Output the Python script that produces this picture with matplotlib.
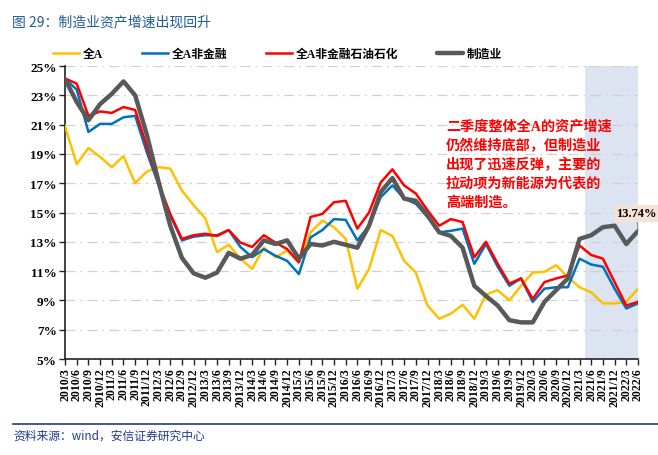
import numpy as np
import matplotlib
matplotlib.use("Agg")
import matplotlib.pyplot as plt

# quarter labels 2010/3 ... 2022/6
quarters = [f"{y}/{m}" for y in range(2010, 2023) for m in (3, 6, 9, 12)][:50]

all_a = [20.9, 18.3, 19.4, 18.8, 18.1, 18.85, 17.0, 17.8, 18.1, 18.0,
         16.5, 15.5, 14.6, 12.3, 12.8, 11.85, 11.15, 12.6, 11.95, 12.4,
         11.6, 13.65, 14.45, 14.0, 13.2, 9.8, 11.15, 13.8, 13.4, 11.7,
         10.9, 8.65, 7.75, 8.1, 8.7, 7.75, 9.4, 9.7, 9.0, 10.0,
         10.9, 10.95, 11.4, 10.6, 9.9, 9.55, 8.8, 8.8, 8.9, 9.8]

all_a_nonfin = [24.1, 23.4, 20.5, 21.05, 21.05, 21.5, 21.6, 19.1, 16.9, 14.8,
                13.1, 13.35, 13.45, 13.45, 13.8, 12.65, 11.95, 12.5, 12.05, 11.7,
                10.8, 13.3, 13.8, 14.55, 14.5, 13.1, 14.1, 16.05, 16.85, 15.95,
                15.6, 14.7, 13.65, 13.75, 13.9, 11.5, 12.85, 11.3, 10.0, 10.5,
                8.9, 9.8, 9.9, 9.9, 11.85, 11.45, 11.3, 9.8, 8.45, 8.8]

all_a_nonfin_ex_oil = [24.15, 23.8, 21.6, 21.9, 21.8, 22.2, 22.0, 19.5, 17.0, 14.9,
                       13.2, 13.45, 13.55, 13.4, 13.8, 12.95, 12.65, 13.45, 12.95, 12.5,
                       11.6, 14.7, 14.9, 15.7, 15.8, 13.9, 15.0, 17.05, 17.95, 16.85,
                       16.3, 15.15, 14.1, 14.55, 14.35, 11.95, 13.0, 11.5, 10.15, 10.5,
                       9.1, 10.25, 10.5, 10.7, 12.75, 12.1, 11.85, 10.25, 8.65, 8.9]

manufacturing = [24.1, 22.55, 21.3, 22.4, 23.1, 23.95, 23.0, 20.3, 17.1, 14.1,
                 11.9, 10.85, 10.55, 10.9, 12.25, 11.85, 12.1, 13.1, 12.85, 13.1,
                 11.85, 12.85, 12.75, 13.0, 12.8, 12.6, 14.1, 16.4, 17.35, 15.95,
                 15.8, 14.8, 13.65, 13.4, 12.6, 10.0, 9.3, 8.65, 7.65, 7.5,
                 7.5, 8.9, 9.7, 10.5, 13.2, 13.45, 14.0, 14.1, 12.85, 13.74]

series_names = ["全A", "全A非金融", "全A非金融石油石化", "制造业"]

cjk = ["Liberation Serif", "Noto Sans CJK SC"]

fig = plt.figure(figsize=(6.58, 4.56), dpi=100)
ax = fig.add_axes([0.0988, 0.2105, 0.8708, 0.6425])

x = np.arange(len(quarters))
ax.axvspan(44.5, 49, color="#DCE4F2", zorder=0, lw=0)

ax.plot(x, all_a, color="#FFC000", lw=1.8, label=series_names[0], zorder=3)
ax.plot(x, all_a_nonfin, color="#0070C0", lw=1.8, label=series_names[1], zorder=4)
ax.plot(x, all_a_nonfin_ex_oil, color="#FF0000", lw=1.8, label=series_names[2], zorder=5)
ax.plot(x, manufacturing, color="#595959", lw=3.2, label=series_names[3], zorder=6,
        solid_capstyle="round")

ax.set_xlim(0, 49)
ax.set_ylim(5, 25)
ax.set_yticks(np.arange(5, 26, 2))
ax.set_yticklabels([f"{v}%" for v in range(5, 26, 2)],
                   family="Liberation Serif", weight="bold", fontsize=9.5)
ax.set_xticks(x)
ax.set_xticklabels(quarters, rotation=90, family="Liberation Serif",
                   weight="bold", fontsize=8.5)

ax.grid(axis="y", color="#D0D0D0", lw=0.9, linestyle=(0, (8, 4, 1.5, 4)))
ax.set_axisbelow(True)
for s in ("top", "right"):
    ax.spines[s].set_visible(False)
ax.spines["left"].set_color("#222222")
ax.spines["bottom"].set_color("#222222")
ax.spines["left"].set_linewidth(1.2)
ax.spines["bottom"].set_linewidth(1.2)
ax.tick_params(axis="both", direction="out", length=4, width=1, pad=2,
               colors="#222222")
ax.tick_params(axis="x", labelcolor="black")
ax.tick_params(axis="y", labelcolor="black")

# legend
leg = fig.legend(loc="center left", bbox_to_anchor=(0.065, 0.88), ncol=4,
                 frameon=False, handlelength=2.2, handletextpad=0.3,
                 columnspacing=3.3, prop={"family": cjk, "weight": "bold", "size": 8.5})

# annotation text
ax.text(0.665, 0.82,
        "二季度整体全A的资产增速\n仍然维持底部，但制造业\n出现了迅速反弹，主要的\n拉动项为新能源为代表的\n高端制造。",
        transform=ax.transAxes, ha="left", va="top", color="#FF0000",
        family=cjk, weight="bold", fontsize=10.2, linespacing=1.45)

# last value label
ax.annotate(f"{manufacturing[-1]:.2f}%", xy=(49, manufacturing[-1]),
            xytext=(47.15, 14.95), textcoords="data", ha="left", va="center",
            family="Liberation Serif", weight="bold", fontsize=9,
            bbox=dict(boxstyle="square,pad=0.2", fc="#F5E1D5", ec="none"),
            arrowprops=dict(arrowstyle="-", color="#8C8C8C", lw=0.8,
                            shrinkA=0, shrinkB=0),
            annotation_clip=False, zorder=8)

# title and source
fig.text(0.018, 0.952, "图 29：制造业资产增速出现回升", color="#1F5C99",
         family=["Noto Sans CJK SC"], fontsize=10, va="center", ha="left")
fig.add_artist(plt.Line2D([0.02, 1.0], [0.068, 0.068], color="#1F3A93", lw=1.2,
                          transform=fig.transFigure))
fig.text(0.02, 0.043, "资料来源：wind，安信证券研究中心", color="#1F3A93",
         family=["Noto Sans CJK SC"], fontsize=8.5, style="italic",
         va="center", ha="left")

fig.savefig("out.png", dpi=100)
